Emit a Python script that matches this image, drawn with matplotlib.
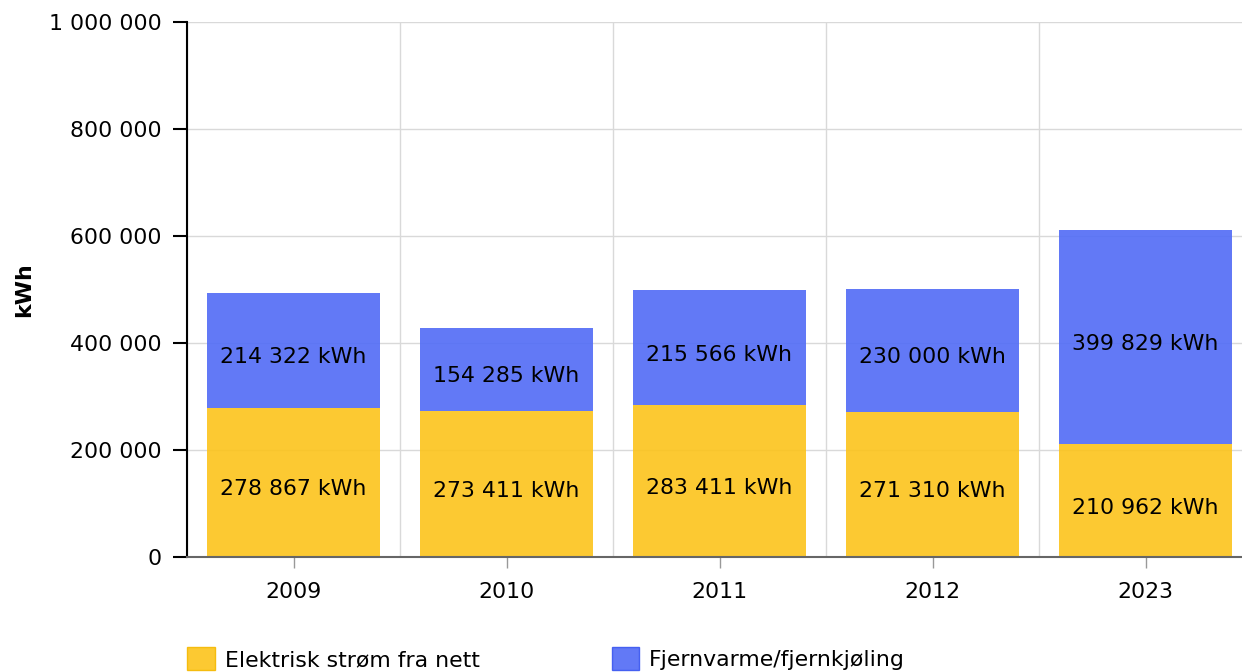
import matplotlib
matplotlib.use("Agg")
import matplotlib.pyplot as plt
import numpy as np
from matplotlib.ticker import FuncFormatter, FixedLocator
from matplotlib.patches import Patch
from matplotlib import transforms

years = ["2009", "2010", "2011", "2012", "2023"]
elektrisk = [278867, 273411, 283411, 271310, 210962]
fjernvarme = [214322, 154285, 215566, 230000, 399829]
series_names = ["Elektrisk strøm fra nett", "Fjernvarme/fjernkjøling"]
yticks = [0, 200000, 400000, 600000, 800000, 1000000]

c_yellow = "#FCC31B"
c_blue = "#516BF6"
alpha = 0.9

plt.rcParams["font.family"] = ["DejaVu Sans"]
FS = 15.8

W, H = 1242, 672
fig = plt.figure(figsize=(W / 100, H / 100), dpi=100)
ax = fig.add_axes([187 / W, (H - 557) / H, 1065 / W, 535 / H])

x = np.arange(len(years))
width = 0.81
ax.bar(x, elektrisk, width, color=c_yellow, alpha=alpha, zorder=2)
ax.bar(x, fjernvarme, width, bottom=elektrisk, color=c_blue, alpha=alpha, zorder=2)

off = transforms.offset_copy(ax.transData, fig=fig, x=0, y=-7, units="dots")
for i in range(len(years)):
    ax.text(x[i], elektrisk[i] / 2, f"{elektrisk[i]:,}".replace(",", " ") + " kWh",
            ha="center", va="center", fontsize=FS, transform=off, zorder=3)
    ax.text(x[i], elektrisk[i] + fjernvarme[i] / 2, f"{fjernvarme[i]:,}".replace(",", " ") + " kWh",
            ha="center", va="center", fontsize=FS, transform=off, zorder=3)

ax.set_xlim(-0.5, len(years) - 0.5)
ax.set_ylim(0, 1000000)
ax.set_yticks(yticks)
ax.yaxis.set_major_formatter(FuncFormatter(lambda v, p: f"{int(v):,}".replace(",", " ")))
ax.set_xticks(x)
ax.set_xticklabels(years)
ax.xaxis.set_minor_locator(FixedLocator(np.arange(-0.5, len(years), 1.0)))

ax.grid(axis="y", which="major", color="#d9d9d9", linewidth=1, zorder=0)
ax.grid(axis="x", which="minor", color="#d9d9d9", linewidth=1, zorder=0)
ax.grid(axis="x", which="major", visible=False)
ax.set_axisbelow(True)

for s in ["top", "right"]:
    ax.spines[s].set_visible(False)
ax.spines["left"].set_color("black")
ax.spines["left"].set_linewidth(1.5)
ax.spines["bottom"].set_color("#666666")
ax.spines["bottom"].set_linewidth(1.5)

ax.tick_params(axis="y", length=10, width=1.5, color="black", labelsize=FS, pad=8)
ax.tick_params(axis="x", which="major", length=8, width=1, color="#999999", labelsize=FS, pad=10)
ax.tick_params(axis="x", which="minor", length=0)

ax.set_ylabel("kWh", fontsize=FS, fontweight="bold", labelpad=11)

handles = [Patch(facecolor=c_yellow, edgecolor="#F5B800", alpha=alpha),
           Patch(facecolor=c_blue, edgecolor="#3A56F0", alpha=alpha)]
fig.legend(handles, series_names, loc="upper left", bbox_to_anchor=(187 / W, (H - 647) / H),
           ncol=2, frameon=False, fontsize=FS, handlelength=1.26, handleheight=1.26,
           handletextpad=0.45, columnspacing=6.03, borderaxespad=0, borderpad=0)

fig.savefig("out.png", dpi=100)
